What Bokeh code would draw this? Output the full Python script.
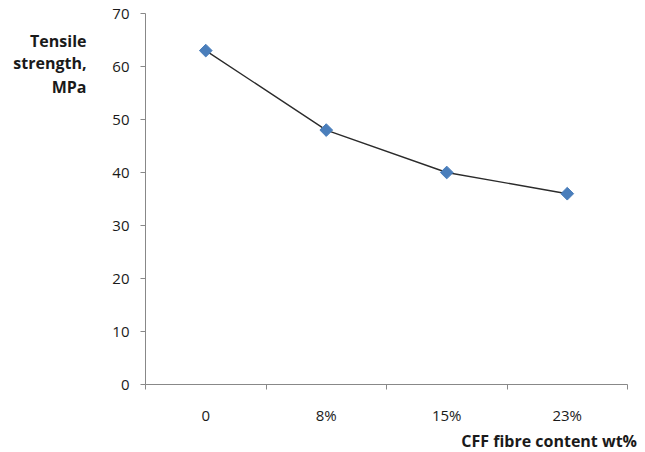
import math
from bokeh.plotting import figure
from bokeh.models import FixedTicker, Range1d, LinearAxis, ColumnDataSource
from bokeh.embed import file_html
from bokeh.resources import INLINE

categories = ["0", "8%", "15%", "23%"]
strength = [63, 48, 40, 36]
y_ticks = [0, 10, 20, 30, 40, 50, 60, 70]
y_title_lines = ["Tensile", "strength,", "MPa"]
x_title = "CFF fibre content wt%"

xs = [i + 0.5 for i in range(len(categories))]
src = ColumnDataSource(dict(x=xs, y=strength))

p = figure(width=645, height=452, output_backend="svg", toolbar_location=None,
           x_range=Range1d(0, len(categories)), y_range=Range1d(0, 70),
           min_border_left=145, min_border_right=18, min_border_top=13, min_border_bottom=68)
p.frame_width = 482
p.frame_height = 371
p.outline_line_color = None
p.grid.grid_line_color = None
p.background_fill_color = "white"
p.border_fill_color = "white"

p.line("x", "y", source=src, line_color="#2b2b2b", line_width=1.4)
p.scatter("x", "y", source=src, marker="square", angle=math.pi / 4, size=9,
          fill_color="#4a7ebb", line_color="#4a7ebb")

font = "Open Sans"
xa = p.xaxis[0]
xa.ticker = FixedTicker(ticks=xs, minor_ticks=list(range(len(categories) + 1)))
xa.major_label_overrides = {x: c for x, c in zip(xs, categories)}
xa.major_tick_out = 0
xa.major_tick_in = 0
xa.minor_tick_out = 5
xa.minor_tick_in = 0
xa.minor_tick_line_color = "#888888"
xa.axis_line_color = "#888888"
xa.major_label_standoff = 15
xa.major_label_text_font = font
xa.major_label_text_font_size = "15px"
xa.major_label_text_color = "#1a1a1a"

ya = p.yaxis[0]
ya.ticker = FixedTicker(ticks=y_ticks, minor_ticks=[])
ya.major_tick_out = 5
ya.major_tick_in = 0
ya.major_tick_line_color = "#888888"
ya.axis_line_color = "#888888"
ya.major_label_standoff = 11
ya.major_label_text_font = font
ya.major_label_text_font_size = "15px"
ya.major_label_text_color = "#1a1a1a"

# Title axes (text only)
title_pos = [64.9, 60.6, 56.2]
ytitle = LinearAxis(ticker=FixedTicker(ticks=title_pos, minor_ticks=[]),
                    major_label_overrides={v: t for v, t in zip(title_pos, y_title_lines)},
                    axis_line_color=None, major_tick_line_color=None,
                    major_tick_out=0, major_tick_in=0, minor_tick_out=0, minor_tick_in=0,
                    major_label_standoff=23,
                    major_label_text_font=font, major_label_text_font_size="16px",
                    major_label_text_font_style="bold", major_label_text_color="#1a1a1a")
p.add_layout(ytitle, "left")

xt_pos = [3.35]
xtitle = LinearAxis(ticker=FixedTicker(ticks=xt_pos, minor_ticks=[]),
                    major_label_overrides={xt_pos[0]: x_title},
                    axis_line_color=None, major_tick_line_color=None,
                    major_tick_out=0, major_tick_in=0, minor_tick_out=0, minor_tick_in=0,
                    major_label_standoff=2,
                    major_label_text_font=font, major_label_text_font_size="16px",
                    major_label_text_font_style="bold", major_label_text_color="#1a1a1a")
p.add_layout(xtitle, "below")

open("out.html", "w").write(file_html(p, INLINE))
